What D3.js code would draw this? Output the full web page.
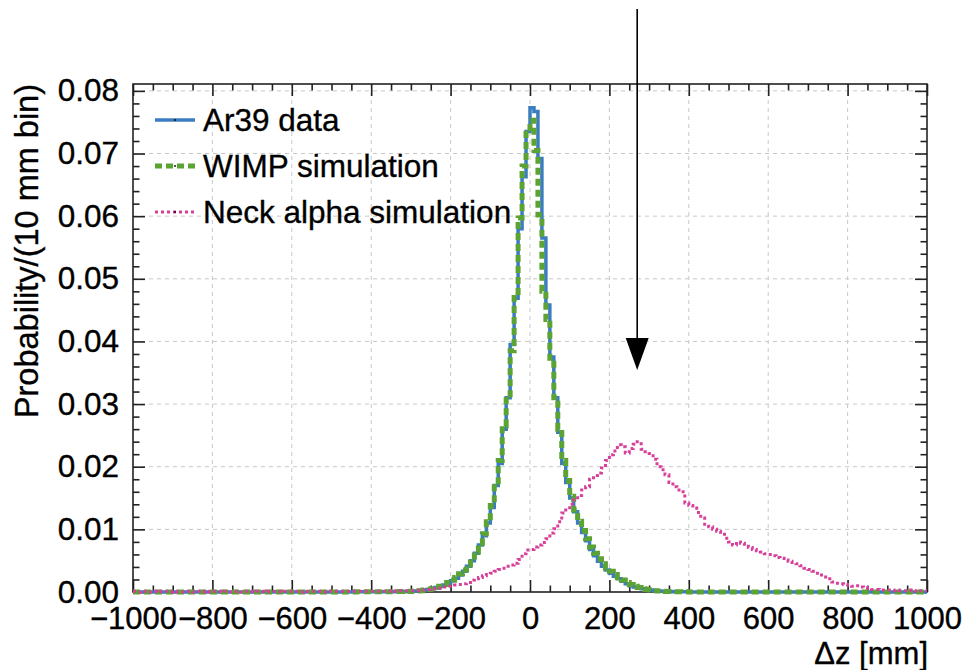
<!DOCTYPE html>
<html>
<head>
<meta charset="utf-8">
<script src="https://cdn.jsdelivr.net/npm/d3@7"></script>
<style>
  html, body { margin: 0; padding: 0; background: #ffffff; }
  svg { display: block; font-family: "Liberation Sans", Arial, Helvetica, sans-serif; }
</style>
</head>
<body>
<svg id="chart" width="967" height="670"></svg>
<script>
// ---------------- DATA ----------------
// Histogram bins: 10 mm wide, from -1000 mm to +1000 mm (200 bins)
const binLow = -1000;
const binHigh = 1000;
const binWidth = 10;

// Ar39 data (probability per 10 mm bin), bins from -1000 to 990 (left edges)
const ar39Data = [
  0,0,0,0,0,0,0,0,0,0,                                                     // -1000..-910
  0,0,0,0,0,0,0,0,0,0,                                                     // -900..-810
  0,0,0,0,0,0,0,0,0,0,                                                     // -800..-710
  0,0,0,0,0,0,0,0,0,0,                                                     // -700..-610
  0,0,0,0,0,0.00001,0.00001,0.00001,0.00001,0.00001,                       // -600..-510
  0.00002,0.00002,0.00002,0.00002,0.00002,0.00002,0.00003,0.00003,0.00003,0.00003, // -500..-410
  0.00003,0.00003,0.00004,0.00004,0.00005,0.00005,0.00006,0.00007,0.00008,0.00009, // -400..-310
  0.0001,0.00015,0.0002,0.0003,0.0004,0.0005,0.0007,0.0009,0.0011,0.0014,   // -300..-210
  0.0018,0.0022,0.0027,0.0033,0.0041,0.005,0.0062,0.0075,0.009,0.011,        // -200..-110
  0.0135,0.017,0.0205,0.026,0.031,0.0395,0.0469,0.058,0.0663,0.0735,        // -100..-10
  0.0773,0.0767,0.0692,0.0565,0.0458,0.0375,0.031,0.0255,0.0205,0.0175,     // 0..90
  0.015,0.0128,0.011,0.0095,0.0082,0.0068,0.0058,0.0049,0.0041,0.0035,      // 100..190
  0.003,0.0025,0.0021,0.0017,0.0013,0.001,0.0008,0.0006,0.0005,0.0004,      // 200..290
  0.0003,0.0002,0.00015,0.0001,0.00008,0.00006,0.00005,0.00004,0.00003,0.00003, // 300..390
  0.00002,0.00002,0.00002,0.00002,0.00001,0.00001,0.00001,0.00001,0.00001,0.00001, // 400..490
  0,0,0,0,0,0,0,0,0,0,                                                     // 500..590
  0,0,0,0,0,0,0,0,0,0,                                                     // 600..690
  0,0,0,0,0,0,0,0,0,0,                                                     // 700..790
  0,0,0,0,0,0,0,0,0,0,                                                     // 800..890
  0,0,0,0,0,0,0,0,0,0                                                      // 900..990
];

// WIMP simulation
const wimpSim = [
  0,0,0,0,0,0,0,0,0,0,
  0,0,0,0,0,0,0,0,0,0,
  0,0,0,0,0,0,0,0,0,0,
  0,0,0,0,0,0,0,0,0,0,
  0,0,0,0,0,0.00001,0.00001,0.00001,0.00001,0.00001,
  0.00002,0.00002,0.00002,0.00002,0.00002,0.00002,0.00003,0.00003,0.00003,0.00003,
  0.00003,0.00003,0.00004,0.00004,0.00005,0.00005,0.00006,0.00007,0.00008,0.00009,
  0.0001,0.00015,0.0002,0.0003,0.0004,0.0005,0.0007,0.0009,0.0012,0.0015,    // -300..-210
  0.0019,0.0023,0.0029,0.0035,0.0043,0.0052,0.0064,0.0078,0.0093,0.0112,    // -200..-110
  0.0138,0.0172,0.021,0.0265,0.0315,0.0385,0.0474,0.0597,0.068,0.074,       // -100..-10
  0.0753,0.0705,0.0602,0.048,0.0435,0.0365,0.031,0.026,0.021,0.0178,        // 0..90
  0.0153,0.0131,0.0113,0.0098,0.0085,0.0072,0.0062,0.0053,0.0045,0.0038,    // 100..190
  0.0033,0.0028,0.0023,0.0019,0.0015,0.0012,0.0009,0.0007,0.0005,0.0004,    // 200..290
  0.0003,0.0002,0.00015,0.0001,0.00008,0.00006,0.00005,0.00004,0.00003,0.00003,
  0.00002,0.00002,0.00002,0.00002,0.00001,0.00001,0.00001,0.00001,0.00001,0.00001,
  0,0,0,0,0,0,0,0,0,0,
  0,0,0,0,0,0,0,0,0,0,
  0,0,0,0,0,0,0,0,0,0,
  0,0,0,0,0,0,0,0,0,0,
  0,0,0,0,0,0,0,0,0,0
];

// Neck alpha simulation
const neckAlphaSim = [
  0.0001,0,0.0001,0.0001,0,0.0001,0,0.0001,0.0001,0,                         // -1000..-910
  0.0001,0,0,0.0001,0.0001,0,0.0001,0,0.0001,0,                              // -900..-810
  0.0001,0.0001,0,0.0001,0,0.0001,0.0001,0,0.0001,0.0001,                    // -800..-710
  0,0.0001,0.0001,0,0.0001,0.0001,0.0001,0,0.0001,0.0001,                    // -700..-610
  0.0001,0.0001,0,0.0001,0.0001,0.0001,0.0001,0.0001,0,0.0001,               // -600..-510
  0.0001,0.0001,0.0001,0.0001,0.0001,0.0001,0.0001,0.0001,0.0001,0.0001,     // -500..-410
  0.0001,0.0001,0.0001,0.0001,0.0001,0.0002,0.0001,0.0002,0.0002,0.0002,     // -400..-310
  0.0002,0.0002,0.0003,0.0003,0.0004,0.0005,0.0006,0.0006,0.0008,0.0009,     // -300..-210
  0.0009,0.0011,0.0012,0.0013,0.0015,0.0019,0.0021,0.0023,0.0026,0.0028,     // -200..-110
  0.003,0.0033,0.0036,0.0038,0.0041,0.0043,0.0046,0.0052,0.0061,0.0067,      // -100..-10
  0.0068,0.0072,0.0075,0.0079,0.0085,0.0094,0.0101,0.0112,0.0126,0.0131,     // 0..90
  0.014,0.0147,0.0154,0.0163,0.0168,0.018,0.0186,0.019,0.0198,0.021,         // 100..190
  0.0219,0.0225,0.0235,0.0232,0.0222,0.0229,0.0236,0.024,0.0228,0.0224,      // 200..290
  0.0221,0.0212,0.02,0.0195,0.0187,0.0175,0.0168,0.0163,0.016,0.0142,        // 300..390
  0.0138,0.0134,0.0127,0.0118,0.0108,0.0104,0.01,0.0097,0.0092,0.0086,       // 400..490
  0.008,0.0075,0.008,0.0078,0.0073,0.0071,0.0068,0.0066,0.0064,0.0061,       // 500..590
  0.006,0.0058,0.0055,0.0054,0.0051,0.0049,0.0047,0.0045,0.0042,0.0038,      // 600..690
  0.0036,0.0033,0.003,0.0027,0.0024,0.0021,0.0016,0.0014,0.0013,0.0012,      // 700..790
  0.0011,0.0009,0.001,0.0008,0.0007,0.0006,0.0004,0.0004,0.0003,0.0003,      // 800..890
  0.0003,0.0002,0.0003,0.0002,0.0002,0.0003,0.0002,0.0001,0.0002,0.0002      // 900..990
];

const xTickValues = [-1000, -800, -600, -400, -200, 0, 200, 400, 600, 800, 1000];
const yTickValues = [0, 0.01, 0.02, 0.03, 0.04, 0.05, 0.06, 0.07, 0.08];
const legendLabels = ["Ar39 data", "WIMP simulation", "Neck alpha simulation"];
const xTitle = "\u0394z [mm]";
const yTitle = "Probability/(10 mm bin)";
const arrowPosition = 270;   // mm

// ---------------- LAYOUT ----------------
const svg = d3.select("#chart");
const L = 133, R = 927, T = 84, B = 592;
const x = d3.scaleLinear().domain([binLow, binHigh]).range([L, R]);
const y = d3.scaleLinear().domain([0, 0.0811]).range([B, T]);

const FONT = 31.5;
const XFONT = 31;
const TEXT_STROKE = 0.35;
const majorLen = 12, minorLen = 6.5;

// grid
const grid = svg.append("g");
grid.selectAll(".gx").data(xTickValues.filter(v => v > binLow && v < binHigh)).enter()
  .append("line")
  .attr("x1", d => x(d)).attr("x2", d => x(d))
  .attr("y1", T).attr("y2", B)
  .attr("stroke", "#c8c8c8").attr("stroke-width", 1).attr("stroke-dasharray", "4,4");
grid.selectAll(".gy").data(yTickValues.filter(v => v > 0)).enter()
  .append("line")
  .attr("x1", L).attr("x2", R)
  .attr("y1", d => y(d)).attr("y2", d => y(d))
  .attr("stroke", "#c8c8c8").attr("stroke-width", 1).attr("stroke-dasharray", "4,4");

// axes (ticks pointing inwards on all four sides)
function styleAxis(g, size) {
  g.select(".domain").remove();
  g.selectAll(".tick line").attr("stroke", "#222").attr("stroke-width", 1.6);
  g.selectAll("text").attr("font-size", size || FONT).attr("fill", "#000")
    .attr("stroke", "#000").attr("stroke-width", TEXT_STROKE)
    .attr("font-family", "'Liberation Sans', Arial, Helvetica, sans-serif");
}
const xMinor = d3.range(binLow, binHigh + 1, 50).filter(v => !xTickValues.includes(v));
const yMinor = d3.range(0, 81, 2).map(v => v / 1000).filter(v => !yTickValues.some(t => Math.abs(t - v) < 1e-9));

const fmtX = d => d < 0 ? "\u2212" + Math.abs(d) : String(d);

// bottom
svg.append("g").attr("transform", `translate(0,${B})`)
  .call(d3.axisBottom(x).tickValues(xTickValues).tickSize(-majorLen).tickPadding(15).tickFormat(fmtX))
  .call(g => styleAxis(g, XFONT));
svg.append("g").attr("transform", `translate(0,${B})`)
  .call(d3.axisBottom(x).tickValues(xMinor).tickSize(-minorLen).tickFormat(""))
  .call(styleAxis);
// top
svg.append("g").attr("transform", `translate(0,${T})`)
  .call(d3.axisTop(x).tickValues(xTickValues).tickSize(-majorLen).tickFormat(""))
  .call(styleAxis);
svg.append("g").attr("transform", `translate(0,${T})`)
  .call(d3.axisTop(x).tickValues(xMinor).tickSize(-minorLen).tickFormat(""))
  .call(styleAxis);
// left
const leftAxis = svg.append("g").attr("transform", `translate(${L},0)`)
  .call(d3.axisLeft(y).tickValues(yTickValues).tickSize(-majorLen).tickPadding(14).tickFormat(d3.format(".2f")))
  .call(styleAxis);
leftAxis.selectAll(".tick text").attr("dy", "0.32em");
svg.append("g").attr("transform", `translate(${L},0)`)
  .call(d3.axisLeft(y).tickValues(yMinor).tickSize(-minorLen).tickFormat(""))
  .call(styleAxis);
// right
svg.append("g").attr("transform", `translate(${R},0)`)
  .call(d3.axisRight(y).tickValues(yTickValues).tickSize(-majorLen).tickFormat(""))
  .call(styleAxis);
svg.append("g").attr("transform", `translate(${R},0)`)
  .call(d3.axisRight(y).tickValues(yMinor).tickSize(-minorLen).tickFormat(""))
  .call(styleAxis);

// frame
svg.append("rect").attr("x", L).attr("y", T).attr("width", R - L).attr("height", B - T)
  .attr("fill", "none").attr("stroke", "#222").attr("stroke-width", 1.6);

// histograms as step lines
function histPoints(vals) {
  const pts = vals.map((v, i) => [binLow + i * binWidth, v]);
  pts.push([binHigh, vals[vals.length - 1]]);
  return pts;
}
const stepLine = d3.line().x(d => x(d[0])).y(d => y(d[1])).curve(d3.curveStepAfter);

const series = [
  { vals: ar39Data, color: "#3b7dc0", width: 3.5, dash: null },
  { vals: wimpSim, color: "#5ba332", width: 5, dash: "7,4" },
  { vals: neckAlphaSim, color: "#d6409a", width: 3, dash: "3,3" }
];
series.forEach(s => {
  svg.append("path").datum(histPoints(s.vals))
    .attr("d", stepLine)
    .attr("fill", "none")
    .attr("stroke", s.color)
    .attr("stroke-width", s.width)
    .attr("stroke-dasharray", s.dash)
    .attr("stroke-linejoin", "miter");
});

// legend
const legY = [120, 166, 212];
const leg = svg.append("g");
series.forEach((s, i) => {
  leg.append("line").attr("x1", 155).attr("x2", 195).attr("y1", legY[i]).attr("y2", legY[i])
    .attr("stroke", s.color).attr("stroke-width", s.width).attr("stroke-dasharray", s.dash);
  leg.append("circle").attr("cx", 175).attr("cy", legY[i]).attr("r", 0.9).attr("fill", "#000");
  leg.append("text").attr("x", 203).attr("y", legY[i]).attr("dy", "0.35em")
    .attr("font-size", FONT).attr("fill", "#000")
    .attr("stroke", "#000").attr("stroke-width", TEXT_STROKE).text(legendLabels[i]);
});

// axis titles
svg.append("text").attr("x", R + 1).attr("y", 663.5).attr("text-anchor", "end")
  .attr("font-size", 31).attr("fill", "#000")
  .attr("stroke", "#000").attr("stroke-width", TEXT_STROKE).text(xTitle);
svg.append("text").attr("transform", `translate(38,${T}) rotate(-90)`)
  .attr("text-anchor", "end").attr("font-size", 32.5).attr("fill", "#000")
  .attr("stroke", "#000").attr("stroke-width", TEXT_STROKE).text(yTitle);

// arrow
const ax = x(arrowPosition);
svg.append("line").attr("x1", ax).attr("x2", ax).attr("y1", 9).attr("y2", 340)
  .attr("stroke", "#000").attr("stroke-width", 1.6);
svg.append("path")
  .attr("d", `M${ax - 11.5},338 L${ax + 11.5},338 L${ax},370 Z`)
  .attr("fill", "#000");
</script>
</body>
</html>
